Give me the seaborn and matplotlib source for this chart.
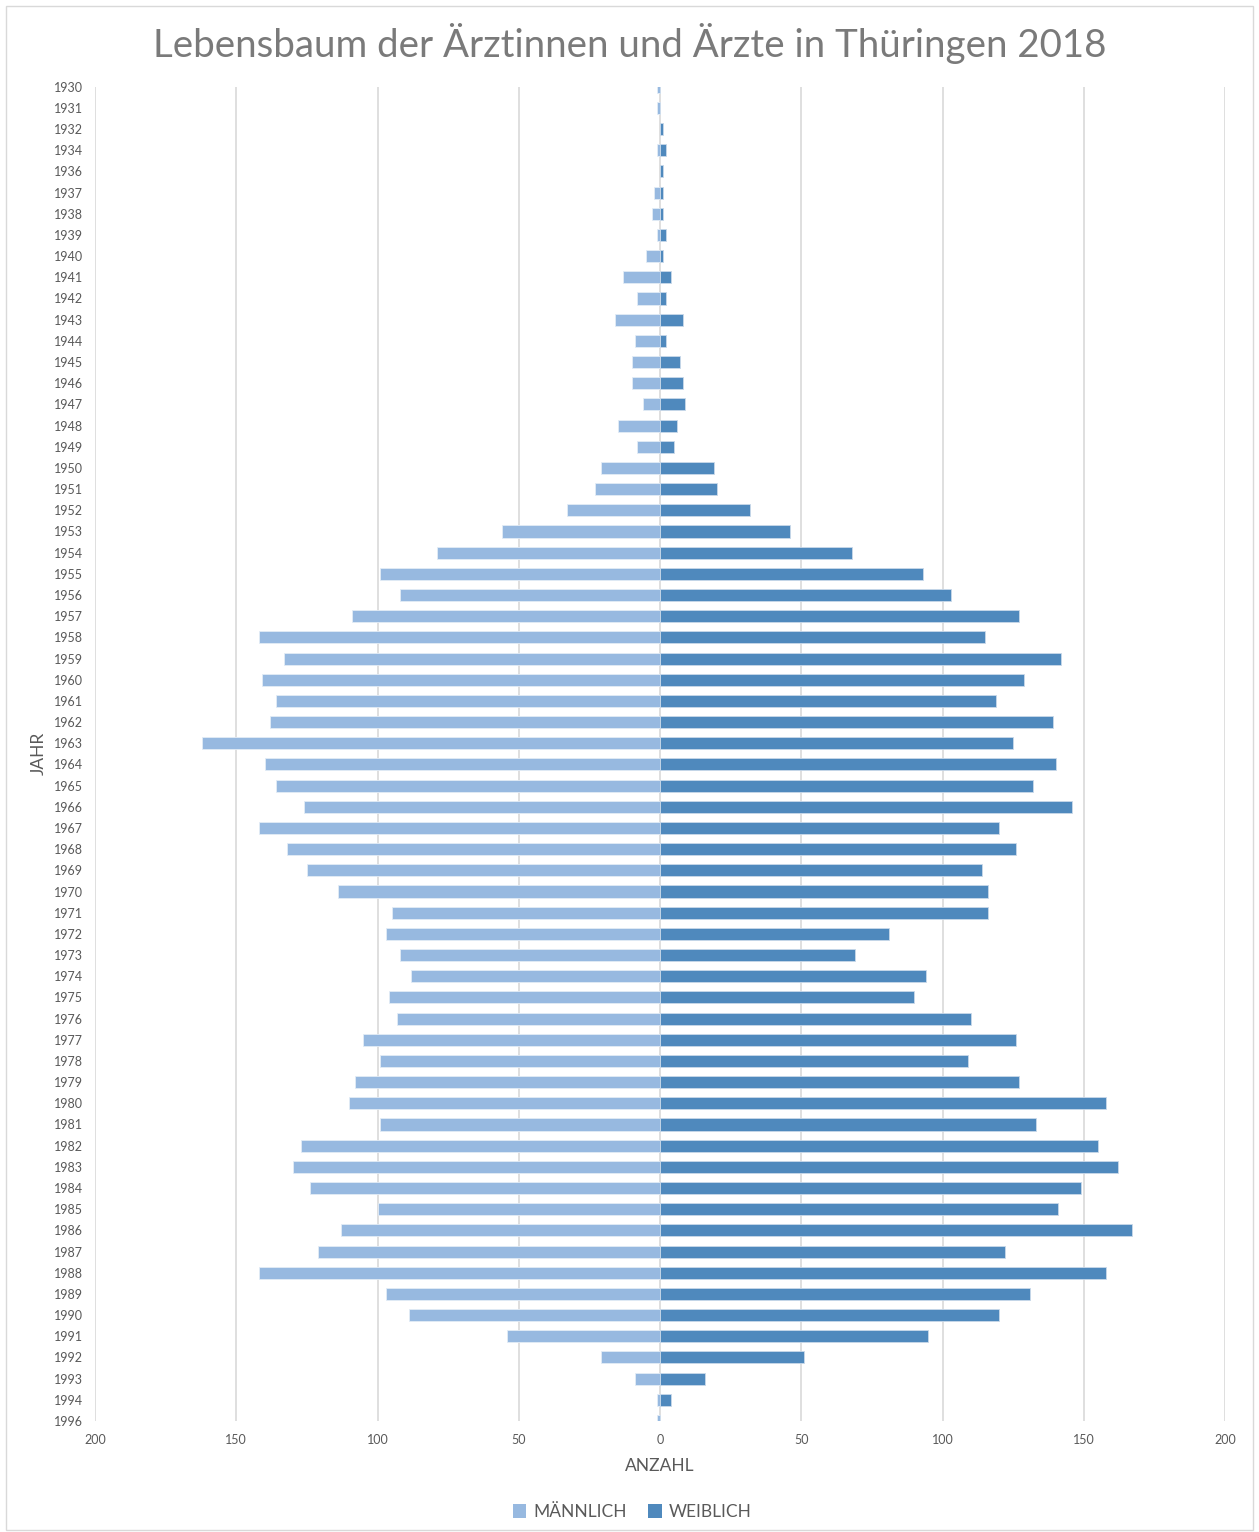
import pandas as pd
import matplotlib
matplotlib.use('Agg')
import matplotlib.pyplot as plt
import seaborn as sns
from matplotlib.patches import Rectangle, Patch
from matplotlib.ticker import FuncFormatter

# Geburtsjahrgaenge (1933, 1935 und 1995 fehlen im Original)
years = ['1930', '1931', '1932', '1934', '1936', '1937', '1938', '1939', '1940',
         '1941', '1942', '1943', '1944', '1945', '1946', '1947', '1948', '1949',
         '1950', '1951', '1952', '1953', '1954', '1955', '1956', '1957', '1958',
         '1959', '1960', '1961', '1962', '1963', '1964', '1965', '1966', '1967',
         '1968', '1969', '1970', '1971', '1972', '1973', '1974', '1975', '1976',
         '1977', '1978', '1979', '1980', '1981', '1982', '1983', '1984', '1985',
         '1986', '1987', '1988', '1989', '1990', '1991', '1992', '1993', '1994',
         '1996']

maennlich = [1, 1, 0, 1, 0, 2, 3, 1, 5,
             13, 8, 16, 9, 10, 10, 6, 15, 8,
             21, 23, 33, 56, 79, 99, 92, 109, 142,
             133, 141, 136, 138, 162, 140, 136, 126, 142,
             132, 125, 114, 95, 97, 92, 88, 96, 93,
             105, 99, 108, 110, 99, 127, 130, 124, 100,
             113, 121, 142, 97, 89, 54, 21, 9, 1,
             1]

weiblich = [0, 0, 1, 2, 1, 1, 1, 2, 1,
            4, 2, 8, 2, 7, 8, 9, 6, 5,
            19, 20, 32, 46, 68, 93, 103, 127, 115,
            142, 129, 119, 139, 125, 140, 132, 146, 120,
            126, 114, 116, 116, 81, 69, 94, 90, 110,
            126, 109, 127, 158, 133, 155, 162, 149, 141,
            167, 122, 158, 131, 120, 95, 51, 16, 4,
            0]

x_ticks = [-200, -150, -100, -50, 0, 50, 100, 150, 200]

farbe_m = '#97B9E0'
farbe_w = '#4F89BD'
grau = '#595959'

df = pd.DataFrame({'Jahr': years,
                   'Maennlich': [-v for v in maennlich],
                   'Weiblich': weiblich})

sns.set_style('white')
plt.rcParams['font.family'] = ['Lato', 'DejaVu Sans']

fig = plt.figure(figsize=(12.59, 15.32), dpi=100)
ax = fig.add_axes([95 / 1259, 1 - 1421 / 1532, 1130 / 1259, 1334.3 / 1532])

sns.barplot(data=df, x='Maennlich', y='Jahr', order=years, orient='y',
            color=farbe_m, saturation=1, width=0.57, errorbar=None,
            edgecolor='#E3ECF6', linewidth=0.6, ax=ax, zorder=3)
sns.barplot(data=df, x='Weiblich', y='Jahr', order=years, orient='y',
            color=farbe_w, saturation=1, width=0.57, errorbar=None,
            edgecolor='#C9D9EA', linewidth=0.6, ax=ax, zorder=3)

ax.set_xlim(-200, 200)
ax.set_ylim(len(years) - 1, 0)
ax.set_xticks(x_ticks)
ax.xaxis.set_major_formatter(FuncFormatter(lambda v, p: f'{abs(int(v))}'))
ax.grid(axis='x', color='#D9D9D9', linewidth=1.2, zorder=0)
ax.grid(axis='y', visible=False)
ax.set_axisbelow(True)
for s in ax.spines.values():
    s.set_visible(False)

ax.tick_params(axis='x', length=0, pad=9, labelsize=9, labelcolor=grau)
ax.tick_params(axis='y', length=0, pad=8.5, labelsize=9, labelcolor=grau)

ax.set_xlabel('ANZAHL', fontsize=12.5, color=grau)
ax.xaxis.set_label_coords(0.5, -0.028)
ax.set_ylabel('JAHR', fontsize=12.5, color=grau)
ax.yaxis.set_label_coords(-0.043, 0.5)

fig.text(0.5, 1 - 44 / 1532, 'Lebensbaum der Ärztinnen und Ärzte in Thüringen 2018',
         ha='center', va='center', fontsize=27.7, color='#7a7a7a', fontweight='normal')

handles = [Patch(facecolor=farbe_m, edgecolor='none', label='MÄNNLICH'),
           Patch(facecolor=farbe_w, edgecolor='none', label='WEIBLICH')]
fig.legend(handles=handles, loc='center', bbox_to_anchor=(632 / 1259, 1 - 1512 / 1532),
           ncol=2, frameon=False, fontsize=12.5, labelcolor=grau,
           handlelength=0.8, handleheight=0.8, handletextpad=0.4, columnspacing=1.2)

fig.patches.append(Rectangle((6 / 1259, 2 / 1532), 1247 / 1259, 1524 / 1532,
                             transform=fig.transFigure, fill=False,
                             edgecolor='#D9D9D9', linewidth=1))

fig.savefig('out.png', dpi=100)
